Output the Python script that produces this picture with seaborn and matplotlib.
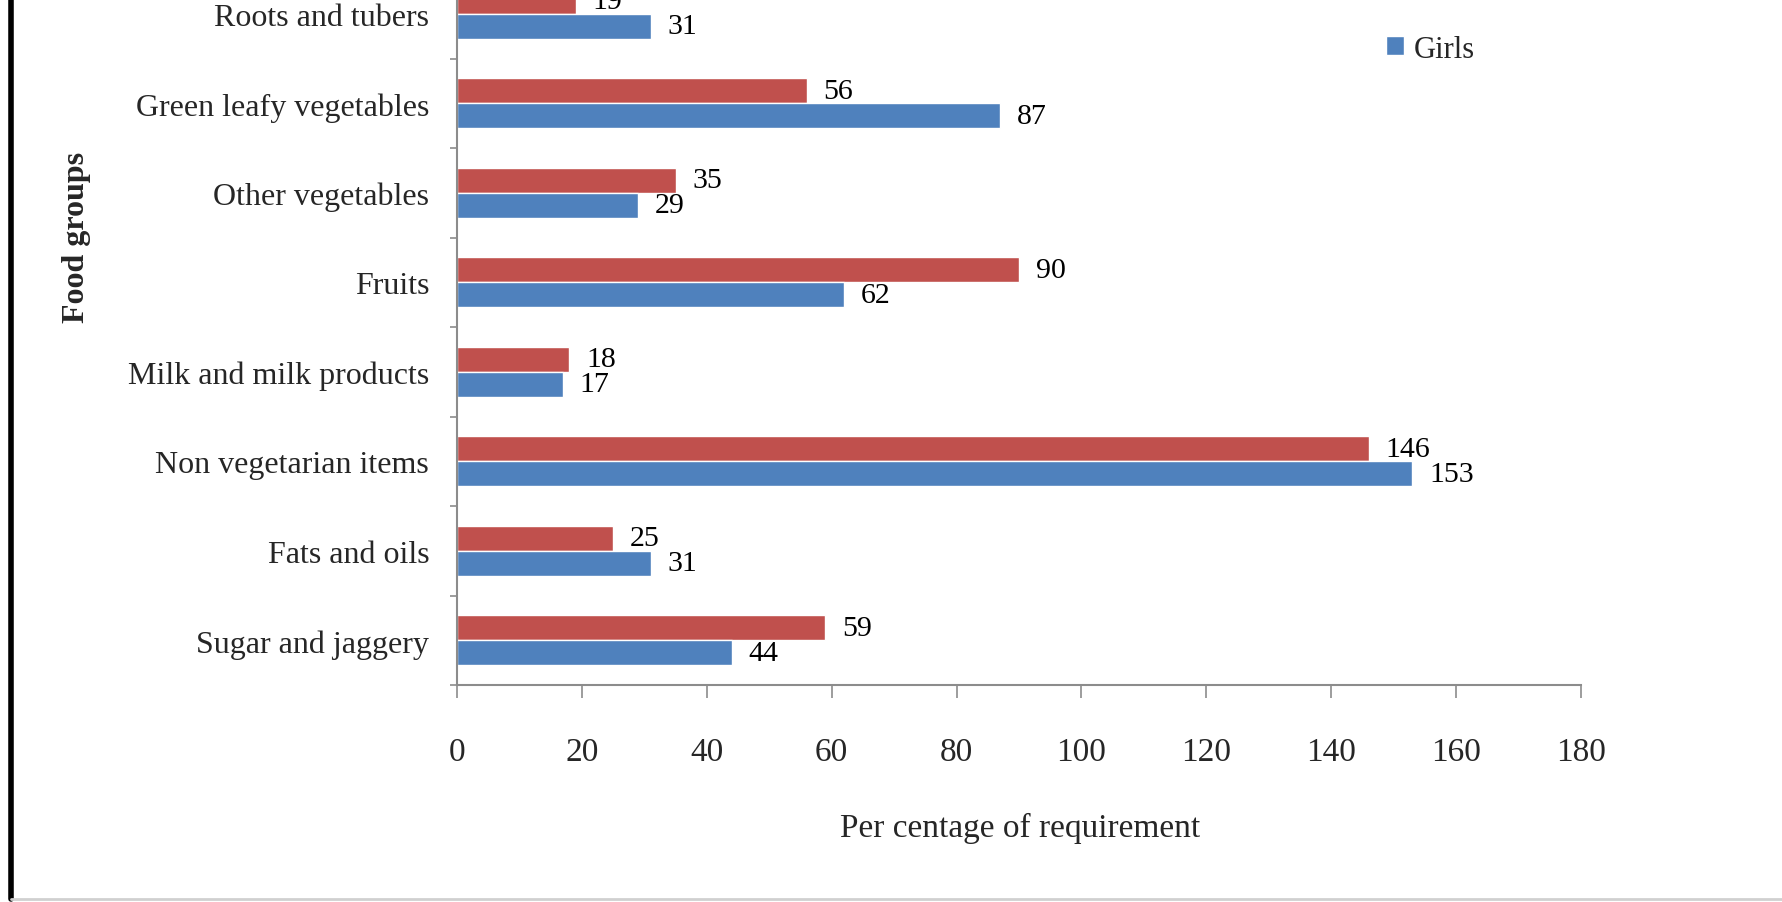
import matplotlib
matplotlib.use("Agg")
import matplotlib.pyplot as plt
import seaborn as sns
import pandas as pd
from matplotlib.lines import Line2D
from matplotlib.patches import Patch
from matplotlib.ticker import FixedLocator

categories = ["Roots and tubers", "Green leafy vegetables", "Other vegetables", "Fruits",
              "Milk and milk products", "Non vegetarian items", "Fats and oils", "Sugar and jaggery"]
boys = [19, 56, 35, 90, 18, 146, 25, 59]
girls = [31, 87, 29, 62, 17, 153, 31, 44]
series = ["Boys", "Girls"]
x_ticks = [0, 20, 40, 60, 80, 100, 120, 140, 160, 180]

df = pd.DataFrame({
    "Food group": categories + categories,
    "value": boys + girls,
    "series": [series[0]] * len(categories) + [series[1]] * len(categories),
})

sns.set_theme(style="white")
plt.rcParams["font.family"] = ["Liberation Serif", "DejaVu Serif"]

fig = plt.figure(figsize=(17.83, 9.03), dpi=100)
ax = fig.add_axes([0.2563, 0.2403, 0.6304, 0.7597])

colors = {"Boys": "#C0504D", "Girls": "#4F81BD"}
sns.barplot(data=df, y="Food group", x="value", hue="series", order=categories,
            hue_order=series, palette=colors, width=0.56, orient="h", ax=ax,
            legend=False, saturation=1, errorbar=None)

for cont in ax.containers:
    ax.bar_label(cont, padding=12, fontsize=21.5, color="black")

ax.set_xlim(0, 180)
ax.set_ylim(7.5, -0.165)
ax.set_xticks(x_ticks)
ax.set_xticklabels([str(t) for t in x_ticks], fontsize=24)
ax.set_yticks(range(len(categories)))
ax.set_yticklabels(categories, fontsize=23)
ax.yaxis.set_minor_locator(FixedLocator([i + 0.5 for i in range(-1, len(categories))]))
ax.set_xlabel("")
ax.set_ylabel("")

for s in ["top", "right"]:
    ax.spines[s].set_visible(False)
for s in ["left", "bottom"]:
    ax.spines[s].set_color("#8c8c8c")
    ax.spines[s].set_linewidth(1.5)

ax.tick_params(axis="x", which="major", direction="out", length=9, width=1.2,
               color="#8c8c8c", pad=28, bottom=True)
ax.tick_params(axis="y", which="major", length=0, pad=20, left=True)
ax.tick_params(axis="y", which="minor", direction="out", length=5, width=1.2,
               color="#8c8c8c", left=True)

fig.text(1020 / 1783, 1 - 828 / 903, "Per centage of requirement", ha="center", va="center",
         fontsize=24)
fig.text(77 / 1783, 1 - 237 / 903, "Food groups", ha="center", va="center",
         rotation=90, fontsize=23, fontweight="bold")

ax.legend(handles=[Patch(facecolor=colors["Girls"])], labels=["Girls"],
          loc="center left", bbox_to_anchor=(1386 / 1783, 1 - 50 / 903),
          bbox_transform=fig.transFigure, frameon=False, fontsize=22,
          handlelength=0.6, handleheight=0.6, handletextpad=0.3, borderpad=0,
          borderaxespad=0)

fig.add_artist(Line2D([11 / 1783, 11 / 1783], [0.003, 1], color="black", lw=4,
                      transform=fig.transFigure))
fig.add_artist(Line2D([11 / 1783, 1], [0.003, 0.003], color="#d0d0d0", lw=2,
                      transform=fig.transFigure))

fig.savefig("out.png", dpi=100)
